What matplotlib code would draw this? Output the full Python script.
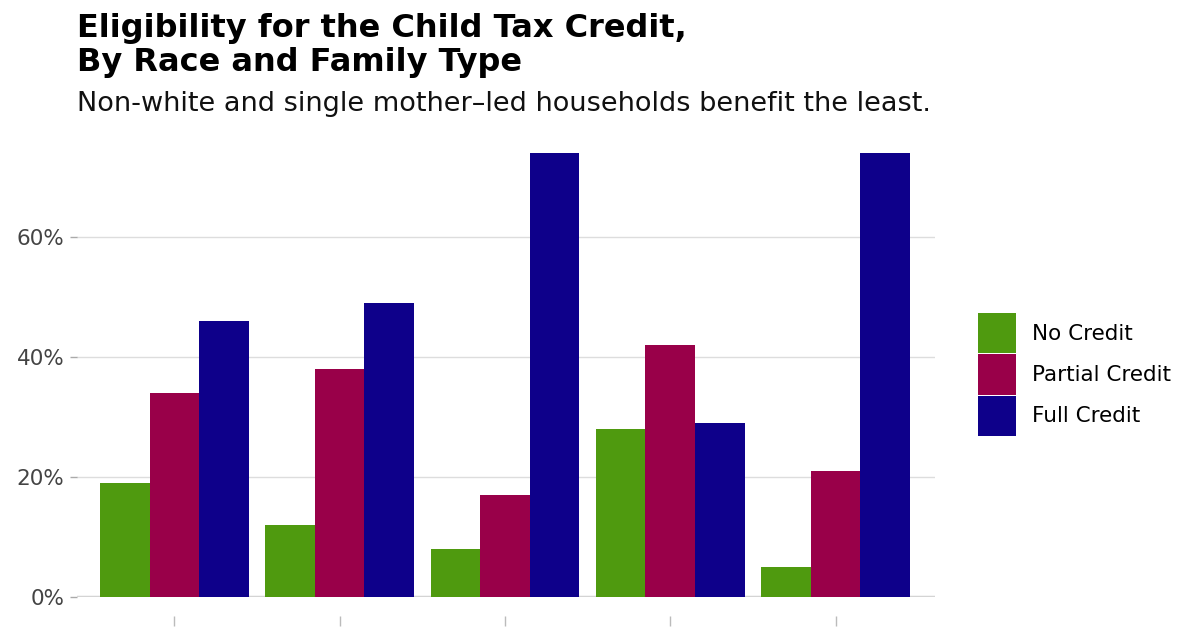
import numpy as np
import matplotlib
matplotlib.use('Agg')
import matplotlib.pyplot as plt
from matplotlib.patches import Patch

# Data (percent of households)
groups = ['1', '2', '3', '4', '5']
series = ['No Credit', 'Partial Credit', 'Full Credit']
no_credit = [19, 12, 8, 28, 5]
partial_credit = [34, 38, 17, 42, 21]
full_credit = [46, 49, 74, 29, 74]
colors = ['#4f9a0f', '#990049', '#0e008a']
y_ticks = [0, 20, 40, 60]

plt.rcParams['font.family'] = ['DejaVu Sans']

fig = plt.figure(figsize=(12, 6.3), dpi=100)
ax = fig.add_axes([0.064, 0.0524, 0.715, 0.7048])

x = np.arange(1, len(groups) + 1)
w = 0.3
for i, (vals, col) in enumerate(zip([no_credit, partial_credit, full_credit], colors)):
    ax.bar(x + (i - 1) * w, vals, width=w, color=col, zorder=3, linewidth=0)

ax.set_xlim(0.41, 5.6)
ax.set_ylim(0, 74)
ax.set_yticks(y_ticks)
ax.set_yticklabels([f'{t}%' for t in y_ticks], fontsize=15.5, color='#444444')
ax.set_xticks(x)
ax.set_xticklabels([''] * len(groups))

ax.grid(axis='y', color='#dddddd', lw=1, zorder=0)
ax.axhline(0, color='#d4d4d4', lw=2.5, zorder=2)
for s in ['top', 'right', 'left']:
    ax.spines[s].set_visible(False)
ax.spines['bottom'].set_position(('outward', 14))
ax.spines['bottom'].set_visible(False)
ax.tick_params(axis='y', length=5, color='#aaaaaa', width=1, pad=4)
ax.tick_params(axis='x', length=7, color='#bbbbbb', width=1)

handles = [Patch(facecolor=c, edgecolor='none', label=s) for c, s in zip(colors, series)]
fig.legend(handles=handles, loc='upper left', bbox_to_anchor=(0.815, 0.503),
           frameon=False, fontsize=15.5, handlelength=1.77, handleheight=2.5,
           labelspacing=0.05, handletextpad=0.75, borderaxespad=0, borderpad=0)

fig.text(0.064, 0.979, 'Eligibility for the Child Tax Credit,\nBy Race and Family Type',
         fontsize=23, fontweight='bold', va='top', ha='left', linespacing=1.13)
fig.text(0.064, 0.835, 'Non-white and single mother\u2013led households benefit the least.',
         fontsize=19.5, va='center', ha='left', color='#111111')

fig.savefig('out.png', dpi=100)
